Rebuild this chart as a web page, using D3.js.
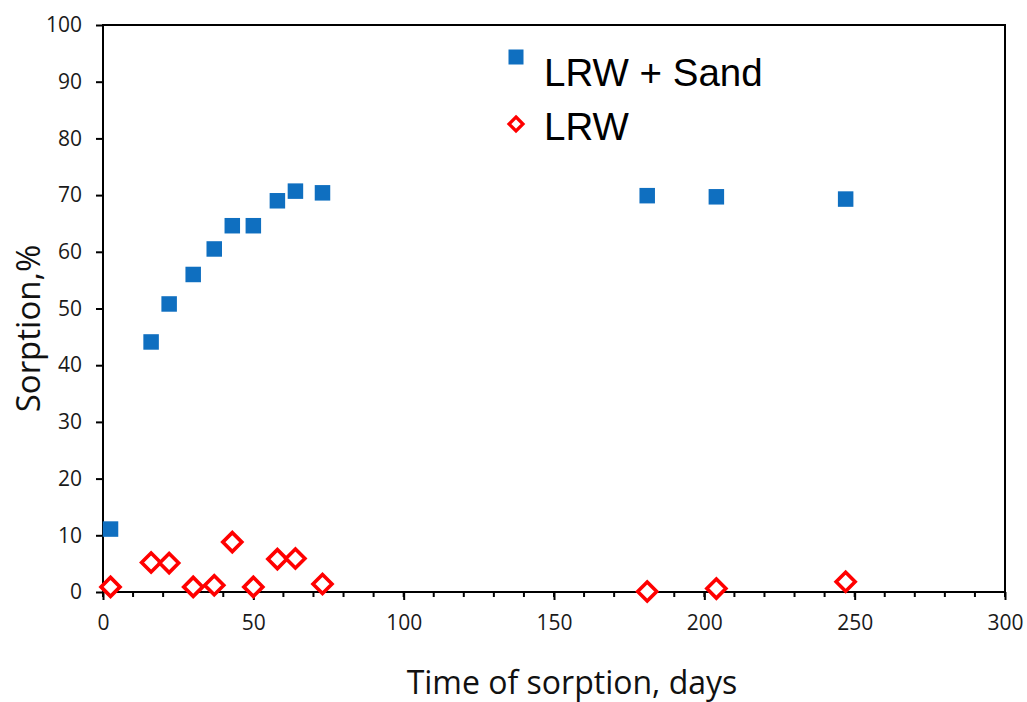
<!DOCTYPE html>
<html>
<head>
<meta charset="utf-8">
<script src="https://cdn.jsdelivr.net/npm/d3@7"></script>
<style>
  body { margin: 0; background: #fff; }
  svg { display: block; }
</style>
</head>
<body>
<div id="chart"></div>
<script>
// data
var days      = [2.5, 16, 22, 30, 37, 43, 50, 58, 64, 73, 181, 204, 247];
var lrwSand   = [11.1, 44.1, 50.8, 56, 60.5, 64.6, 64.6, 69, 70.7, 70.4, 69.9, 69.7, 69.3];
var lrw       = [0.9, 5.2, 5.1, 0.9, 1.2, 8.8, 0.9, 5.8, 5.9, 1.4, 0.1, 0.6, 1.8];
var xTicks    = [0, 50, 100, 150, 200, 250, 300];
var xMinor    = d3.range(0, 301, 10);
var yTicks    = [0, 10, 20, 30, 40, 50, 60, 70, 80, 90, 100];
var seriesNames = ['LRW + Sand', 'LRW'];

var width = 1027, height = 702;
var margin = {top: 25, right: 22, bottom: 110, left: 103};

var svg = d3.select('#chart')
  .append('svg')
  .attr('width', width)
  .attr('height', height);

var x = d3.scaleLinear().domain([0, 300]).range([margin.left, width - margin.right]);
var y = d3.scaleLinear().domain([0, 100]).range([height - margin.bottom, margin.top]);

var tickFont = '"Open Sans", "DejaVu Sans", sans-serif';

// box
svg.append('rect')
  .attr('x', x(0)).attr('y', y(100))
  .attr('width', x(300) - x(0)).attr('height', y(0) - y(100))
  .attr('fill', 'none').attr('stroke', '#000').attr('stroke-width', 2);

// minor x ticks
svg.append('g').selectAll('line')
  .data(xMinor)
  .enter().append('line')
  .attr('x1', function(d) { return x(d); })
  .attr('x2', function(d) { return x(d); })
  .attr('y1', y(0)).attr('y2', y(0) + 5)
  .attr('stroke', '#000').attr('stroke-width', 2);

var xAxis = svg.append('g')
  .attr('transform', 'translate(0,' + y(0) + ')')
  .call(d3.axisBottom(x).tickValues(xTicks).tickSize(8).tickPadding(15).tickSizeOuter(0));
xAxis.select('.domain').remove();
xAxis.selectAll('line').attr('stroke-width', 2);
xAxis.selectAll('text').style('font-family', tickFont).style('font-size', '21px').attr('fill', '#1a1a1a');

var yAxis = svg.append('g')
  .attr('transform', 'translate(' + x(0) + ',0)')
  .call(d3.axisLeft(y).tickValues(yTicks).tickSize(7).tickPadding(14).tickSizeOuter(0));
yAxis.select('.domain').remove();
yAxis.selectAll('line').attr('stroke-width', 2);
yAxis.selectAll('text').style('font-family', tickFont).style('font-size', '21px').attr('fill', '#1a1a1a');

// axis titles
svg.append('text')
  .attr('x', (x(0) + x(300)) / 2 + 18)
  .attr('y', 694)
  .attr('text-anchor', 'middle')
  .style('font-family', tickFont)
  .style('font-size', '32px')
  .attr('fill', '#111')
  .text('Time of sorption, days');

svg.append('text')
  .attr('transform', 'translate(40,' + (y(50) + 20) + ') rotate(-90)')
  .attr('text-anchor', 'middle')
  .style('font-family', tickFont)
  .style('font-size', '33px')
  .attr('fill', '#111')
  .text('Sorption,%');

var blue = '#0F6FC0', red = '#FF0000';
var sq = 15.5, dm = 9.5;

// LRW + Sand squares
svg.append('g').selectAll('rect')
  .data(days.map(function(d, i) { return [d, lrwSand[i]]; }))
  .enter().append('rect')
  .attr('x', function(d) { return x(d[0]) - sq / 2; })
  .attr('y', function(d) { return y(d[1]) - sq / 2; })
  .attr('width', sq).attr('height', sq)
  .attr('fill', blue);

function diamond(r) {
  return 'M0,' + (-r) + 'L' + r + ',0L0,' + r + 'L' + (-r) + ',0Z';
}

// LRW diamonds
svg.append('g').selectAll('path')
  .data(days.map(function(d, i) { return [d, lrw[i]]; }))
  .enter().append('path')
  .attr('transform', function(d) { return 'translate(' + x(d[0]) + ',' + y(d[1]) + ')'; })
  .attr('d', diamond(dm))
  .attr('fill', '#fff')
  .attr('stroke', red)
  .attr('stroke-width', 3.6);

// legend
var legend = svg.append('g');
legend.append('rect')
  .attr('x', 516 - 7.5).attr('y', 57 - 7.5)
  .attr('width', 15).attr('height', 15)
  .attr('fill', blue);
legend.append('path')
  .attr('transform', 'translate(516,124)')
  .attr('d', diamond(7))
  .attr('fill', '#fff').attr('stroke', red).attr('stroke-width', 3.2);
legend.selectAll('text')
  .data(seriesNames)
  .enter().append('text')
  .attr('x', 544)
  .attr('y', function(d, i) { return i === 0 ? 86 : 140; })
  .style('font-family', '"Liberation Sans", Arial, sans-serif')
  .style('font-size', '38.5px')
  .attr('fill', '#000')
  .text(function(d) { return d; });
</script>
</body>
</html>
